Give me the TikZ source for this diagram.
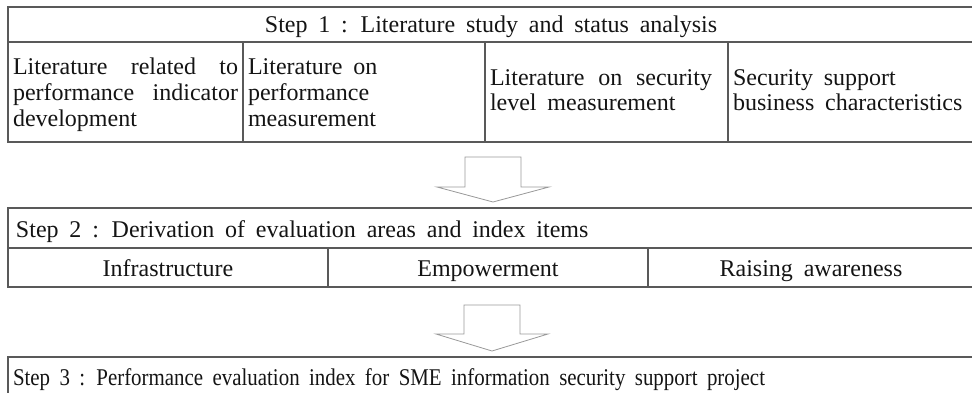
\documentclass[tikz,border=0pt]{standalone}
\usepackage{fontspec}
\usepackage{graphicx}
\setmainfont{Liberation Serif}[WordSpace=1.8]
\begin{document}
\begin{tikzpicture}[x=1pt,y=-1pt]
\tikzset{
  boxline/.style={draw=black!65, line width=1.4pt},
  cell/.style={boxline, rectangle, inner sep=0pt, outer sep=0pt, anchor=north west},
  txt/.style={inner sep=0pt, outer sep=0pt, text=black!92, font=\fontsize{24}{25}\selectfont},
  blockarrow/.style={draw=black!40, line width=0.8pt, fill=white, line join=miter}
}
\useasboundingbox (0,0) rectangle (972,393);
\clip (0,0) rectangle (972,393);

% Step 1
\node[cell, minimum width=968pt, minimum height=35pt] (s1h) at (8,7) {};
\node[cell, minimum width=235pt, minimum height=100pt] (s1a) at (8,42) {};
\node[cell, minimum width=242pt, minimum height=100pt] (s1b) at (243,42) {};
\node[cell, minimum width=243pt, minimum height=100pt] (s1c) at (485,42) {};
\node[cell, minimum width=248pt, minimum height=100pt] (s1d) at (728,42) {};

\node[txt, anchor=base] (t1h) at (491,33) {Step 1 : Literature study and status analysis};
\node[txt, anchor=base west] (t1a1) at (13,75) {\makebox[225pt][s]{Literature related to}};
\node[txt, anchor=base west] (t1a2) at (13,101) {\makebox[225pt][s]{performance indicator}};
\node[txt, anchor=base west] (t1a3) at (13,127) {development};
\node[txt, anchor=base west] (t1b1) at (248,75) {Literature on};
\node[txt, anchor=base west] (t1b2) at (248,101) {performance};
\node[txt, anchor=base west] (t1b3) at (248,127) {measurement};
\node[txt, anchor=base west] (t1c1) at (490,86) {\makebox[222pt][s]{Literature on security}};
\node[txt, anchor=base west] (t1c2) at (490,111) {level measurement};
\node[txt, anchor=base west] (t1d1) at (733,86) {Security support};
\node[txt, anchor=base west] (t1d2) at (733,111) {business characteristics};

% Arrow 1
\draw[blockarrow] (465,157) -- (521,157) -- (521,187) -- (549,187) -- (493,202)
  -- (437,187) -- (465,187) -- cycle;

% Step 2
\node[cell, minimum width=968pt, minimum height=40pt] (s2h) at (8,208) {};
\node[cell, minimum width=320pt, minimum height=39pt] (s2a) at (8,248) {};
\node[cell, minimum width=320pt, minimum height=39pt] (s2b) at (328,248) {};
\node[cell, minimum width=328pt, minimum height=39pt] (s2c) at (648,248) {};

\node[txt, anchor=base west] (t2h) at (16,237) {Step 2 : Derivation of evaluation areas and index items};
\node[txt, anchor=base] (t2a) at (168,276) {Infrastructure};
\node[txt, anchor=base] (t2b) at (488,276) {Empowerment};
\node[txt, anchor=base] (t2c) at (811,276) {Raising awareness};

% Arrow 2
\draw[blockarrow] (464,305) -- (520,305) -- (520,334) -- (548,334) -- (492,351)
  -- (436,334) -- (464,334) -- cycle;

% Step 3
\node[cell, minimum width=968pt, minimum height=60pt] (s3h) at (8,357) {};
\node[txt, anchor=base west] (t3h) at (13,385) {\resizebox{752pt}{\height}{Step 3 : Performance evaluation index for SME information security support project}};
\end{tikzpicture}
\end{document}
